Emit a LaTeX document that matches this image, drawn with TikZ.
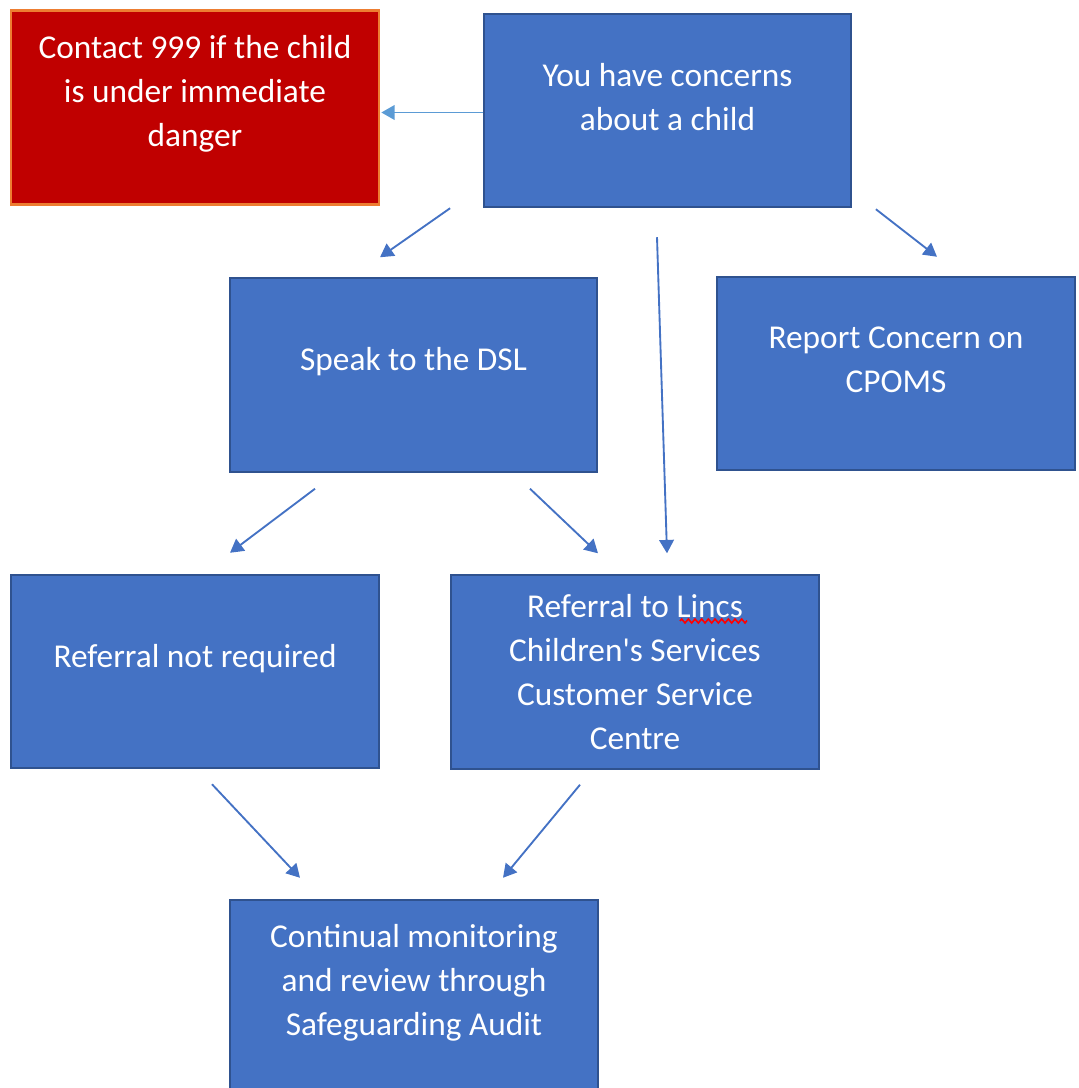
\documentclass[tikz,border=0pt]{standalone}
\usepackage{fontspec}
\setmainfont{Carlito}
\usetikzlibrary{arrows.meta, calc, decorations.pathmorphing}
\definecolor{boxblue}{HTML}{4472C4}
\definecolor{boxline}{HTML}{2F528F}
\definecolor{alertred}{HTML}{C00000}
\definecolor{alertline}{HTML}{ED7D31}
\definecolor{lightarrow}{HTML}{5B9BD5}
\tikzset{>={Triangle[width=11pt,length=10pt]}}
\tikzset{
  flowbox/.style={draw=boxline, fill=boxblue, line width=1.6pt,
    minimum width=275pt, minimum height=145pt, inner sep=0pt},
  alertbox/.style={flowbox, draw=alertline, fill=alertred, line width=2pt},
  boxtext/.style={text=white, align=center, inner sep=0pt,
    font=\fontsize{25}{33}\selectfont, yshift=#1},
  boxtext/.default=10pt,
  flowarrow/.style={->, draw=boxblue, line width=1.4pt},
  spellmark/.style={red, line width=1.2pt, decorate,
    decoration={zigzag, segment length=5pt, amplitude=1.5pt}},
}

\begin{document}
\begin{tikzpicture}[x=0.75pt, y=-0.75pt]
  \clip (0,0) rectangle (1078,1088);

  \node[alertbox, minimum width=276pt, label={[boxtext, name=red-text]center:{Contact 999 if the child\\is under immediate\\danger}}] (red) at (195,107.5) {};
  \node[flowbox, label={[boxtext, name=concern-text]center:{You have concerns\\about a child}}] (concern) at (667.5,110.5) {};
  \node[flowbox, label={[boxtext, name=dsl-text]center:{Speak to the DSL}}] (dsl) at (413.5,375) {};
  \node[flowbox, minimum width=269pt, label={[boxtext, name=cpoms-text]center:{Report Concern on\\CPOMS}}] (cpoms) at (896,373.5) {};
  \node[flowbox, minimum width=276pt, label={[boxtext, name=notreq-text]center:{Referral not required}}] (notreq) at (195,671.5) {};
  \node[flowbox, minimum width=276pt, label={[boxtext=0pt, name=lincs-text]center:{Referral to Lincs\\Children\textquotesingle s Services\\Customer Service\\Centre}}] (lincs) at (635,672) {};
  \node[flowbox, minimum width=276pt, label={[boxtext, name=audit-text]center:{Continual monitoring\\and review through\\Safeguarding Audit}}] (audit) at (414,996.5) {};

  % spelling squiggle under Lincs
  \draw[spellmark] ($(lincs)+(45,-51)$) -- ($(lincs)+(112,-51)$);

  \draw[flowarrow, draw=lightarrow, lightarrow] ($(concern.west)+(0,2)$) -- ($(red.east)+(1,5)$);
  \draw[flowarrow] ($(concern.south west)+(-33,0)$) -- ($(dsl.north)+(-33.5,-20)$);
  \draw[flowarrow] ($(concern.south east)+(24,1)$) -- ($(cpoms.north)+(41,-19)$);
  \draw[flowarrow] ($(concern.south)+(-10.5,29)$) -- ($(lincs.north)+(32,-21)$);
  \draw[flowarrow] ($(dsl.south)+(-98.5,16)$) -- ($(notreq.north)+(35,-21)$);
  \draw[flowarrow] ($(dsl.south)+(116.5,16)$) -- ($(lincs.north)+(-37,-21)$);
  \draw[flowarrow] ($(notreq.south)+(17,15)$) -- ($(audit.north)+(-114,-21)$);
  \draw[flowarrow] ($(lincs.south)+(-55,15)$) -- ($(audit.north)+(89,-21)$);
\end{tikzpicture}
\end{document}
